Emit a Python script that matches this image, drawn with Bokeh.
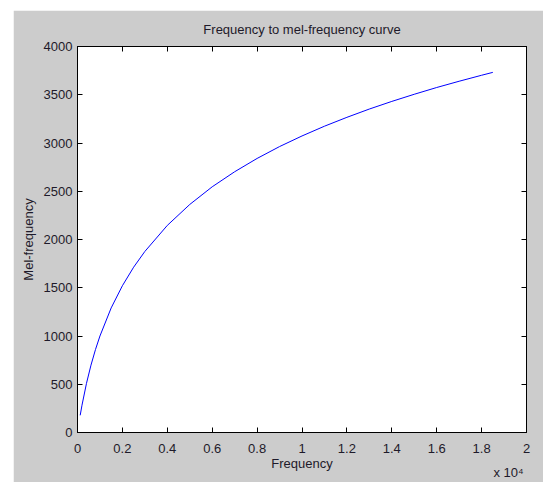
from bokeh.plotting import figure
from bokeh.models import Range1d, FixedTicker, LinearAxis, CustomLabelingPolicy, Spacer
from bokeh.layouts import column, row
from bokeh.embed import file_html
from bokeh.resources import INLINE

# Data (frequency in Hz, mel-frequency)
freq_hz = [120, 200, 400, 600, 800, 1000, 1500, 2000, 2500, 3000, 4000, 5000,
           6000, 7000, 8000, 9000, 10000, 11000, 12000, 13000, 14000, 15000,
           16000, 17000, 18000, 18500]
mel = [178, 283, 509, 698, 859, 1000, 1291, 1521, 1713, 1876, 2146, 2363,
       2546, 2702, 2840, 2963, 3073, 3174, 3266, 3352, 3431, 3505,
       3575, 3640, 3702, 3732]

x_ticks = [0, 2000, 4000, 6000, 8000, 10000, 12000, 14000, 16000, 18000, 20000]
x_tick_labels = ["0", "0.2", "0.4", "0.6", "0.8", "1", "1.2", "1.4", "1.6", "1.8", "2"]
y_ticks = [0, 500, 1000, 1500, 2000, 2500, 3000, 3500, 4000]
exponent_text = "x 10\u2074"
exponent_at = 19200

FONT = "Liberation Sans"
TXT = "#1e1a2a"
GRAY = "#cccccc"

p = figure(width=530, height=472, output_backend="svg", toolbar_location=None,
           x_range=Range1d(0, 20000), y_range=Range1d(0, 4000),
           title="Frequency to mel-frequency curve",
           min_border_left=64, min_border_right=17, min_border_top=36, min_border_bottom=49)

p.border_fill_color = GRAY
p.background_fill_color = "white"
p.outline_line_color = "black"
p.grid.visible = False

p.title.align = "center"
p.title.text_font = FONT
p.title.text_font_size = "13px"
p.title.text_font_style = "normal"
p.title.text_color = TXT
p.title.standoff = 19

p.line(freq_hz, mel, line_color="#0000ff", line_width=1)

no_labels = CustomLabelingPolicy(code="""
    const n = indices.size
    for (let i = 0; i < n; i++) { indices.unset(i) }
    return indices
""")

def style_axis(ax, show_labels=True):
    ax.axis_line_color = "black"
    ax.major_tick_line_color = "black"
    ax.major_tick_in = 5
    ax.major_tick_out = 0
    ax.minor_tick_line_color = None
    ax.major_label_text_font = FONT
    ax.major_label_text_color = TXT
    ax.major_label_text_font_size = "13px"
    ax.axis_label_text_font = FONT
    ax.axis_label_text_color = TXT
    ax.axis_label_text_font_style = "normal"
    ax.axis_label_text_font_size = "13px"
    if not show_labels:
        ax.major_label_policy = no_labels
        ax.major_label_text_font_size = "0px"
        ax.major_label_standoff = 0

xaxis = p.xaxis[0]
yaxis = p.yaxis[0]
xaxis.ticker = FixedTicker(ticks=x_ticks)
xaxis.major_label_overrides = {t: l for t, l in zip(x_ticks, x_tick_labels)}
yaxis.ticker = FixedTicker(ticks=y_ticks)
style_axis(xaxis)
style_axis(yaxis)
xaxis.axis_label = "Frequency"
yaxis.axis_label = "Mel-frequency"
xaxis.major_label_standoff = 11
xaxis.axis_label_standoff = 0
yaxis.major_label_standoff = 5
yaxis.axis_label_standoff = 5

top_axis = LinearAxis(ticker=FixedTicker(ticks=x_ticks))
style_axis(top_axis, show_labels=False)
p.add_layout(top_axis, "above")
right_axis = LinearAxis(ticker=FixedTicker(ticks=y_ticks))
style_axis(right_axis, show_labels=False)
p.add_layout(right_axis, "right")

# exponent note "x 10^4" under the right end of the x axis
exp_axis = LinearAxis(ticker=FixedTicker(ticks=[exponent_at]),
                      major_label_overrides={exponent_at: exponent_text})
style_axis(exp_axis)
exp_axis.axis_line_color = None
exp_axis.major_tick_line_color = None
exp_axis.major_label_standoff = -9
p.add_layout(exp_axis, "below")

layout = column(Spacer(width=530, height=10),
                row(Spacer(width=13, height=472), p))

open("out.html", "w").write(file_html(layout, INLINE))
